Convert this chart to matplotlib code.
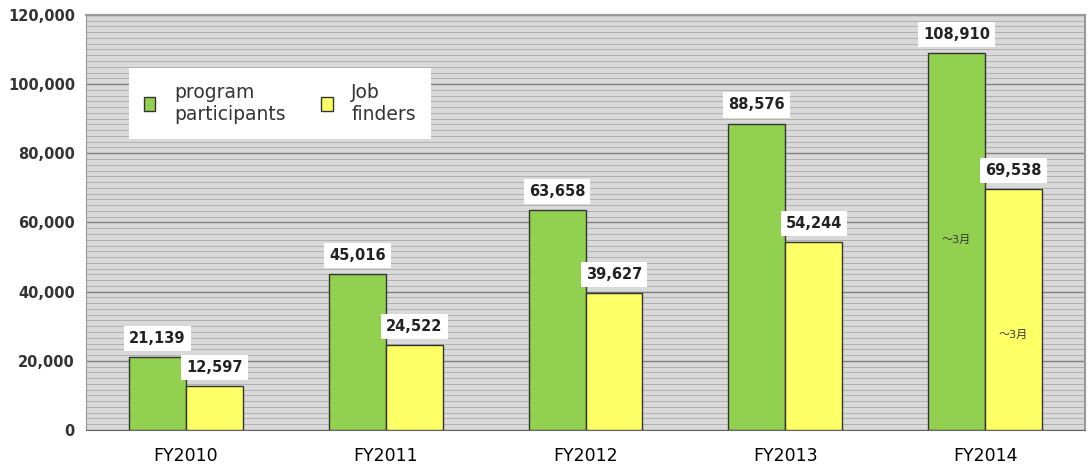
import matplotlib
matplotlib.use("Agg")
import matplotlib.pyplot as plt
import numpy as np
from matplotlib.ticker import MultipleLocator, FuncFormatter

categories = ["FY2010", "FY2011", "FY2012", "FY2013", "FY2014"]
participants = [21139, 45016, 63658, 88576, 108910]
job_finders = [12597, 24522, 39627, 54244, 69538]
series_names = ["program\nparticipants", "Job\nfinders"]
note_text = "～3月"

plt.rcParams["font.family"] = ["DejaVu Sans", "Noto Sans CJK JP"]

fig = plt.figure(figsize=(10.92, 4.68), dpi=100)
ax = fig.add_axes([0.0788, 0.0812, 0.9148, 0.887])

x = np.arange(len(categories))
w = 0.285
green = "#92d050"
yellow = "#ffff66"

ax.set_facecolor("#d9d9d9")
ax.set_xlim(-0.5, len(categories) - 0.5)
ax.set_ylim(0, 120000)

# background striping and major grid
ax.yaxis.set_major_locator(MultipleLocator(20000))
ax.yaxis.set_minor_locator(MultipleLocator(20000 / 12))
ax.grid(which="minor", axis="y", color="#b0b0b0", linewidth=0.7)
ax.grid(which="major", axis="y", color="#808080", linewidth=1.0)
ax.set_axisbelow(True)

ax.bar(x - w / 2, participants, w, color=green, edgecolor="#333333", linewidth=1.0,
       label=series_names[0], zorder=3)
ax.bar(x + w / 2, job_finders, w, color=yellow, edgecolor="#333333", linewidth=1.0,
       label=series_names[1], zorder=3)

# value labels in white boxes above each bar
box = dict(boxstyle="square,pad=0.35", facecolor="white", edgecolor="none")
for xs, vals in ((x - w / 2, participants), (x + w / 2, job_finders)):
    for xi, v in zip(xs, vals):
        ax.annotate(f"{v:,}", (xi, v), xytext=(0, 8), textcoords="offset points",
                    ha="center", va="bottom", fontsize=10.5, fontweight="bold",
                    color="#222222", bbox=box, zorder=5)

ax.text(x[-1] - w / 2, 55000, note_text, ha="center", va="center", fontsize=8,
        color="#333333", zorder=5)
ax.text(x[-1] + w / 2, 27500, note_text, ha="center", va="center", fontsize=8,
        color="#333333", zorder=5)

ax.set_xticks(x)
ax.set_xticklabels(categories, fontsize=12.5)
ax.tick_params(axis="x", length=0, pad=12)
ax.tick_params(axis="y", which="both", length=0, labelsize=10.5, pad=8)
ax.yaxis.set_major_formatter(FuncFormatter(lambda v, p: f"{int(v):,}"))
for lab in ax.get_yticklabels():
    lab.set_fontweight("bold")
    lab.set_color("#333333")

for s in ("top", "right"):
    ax.spines[s].set_color("#999999")
    ax.spines[s].set_linewidth(1.5)
ax.spines["left"].set_color("#999999")
ax.spines["bottom"].set_color("#666666")

leg = ax.legend(loc="upper left", bbox_to_anchor=(0.043, 0.873), borderaxespad=0,
                ncol=2, frameon=True, fancybox=False, edgecolor="white", framealpha=1,
                fontsize=13.5, handlelength=0.6, handleheight=0.7, columnspacing=1.9,
                handletextpad=1.0, borderpad=0.8, labelcolor="#333333")
leg.get_frame().set_linewidth(0)

fig.savefig("out.png", dpi=100, facecolor="white")
